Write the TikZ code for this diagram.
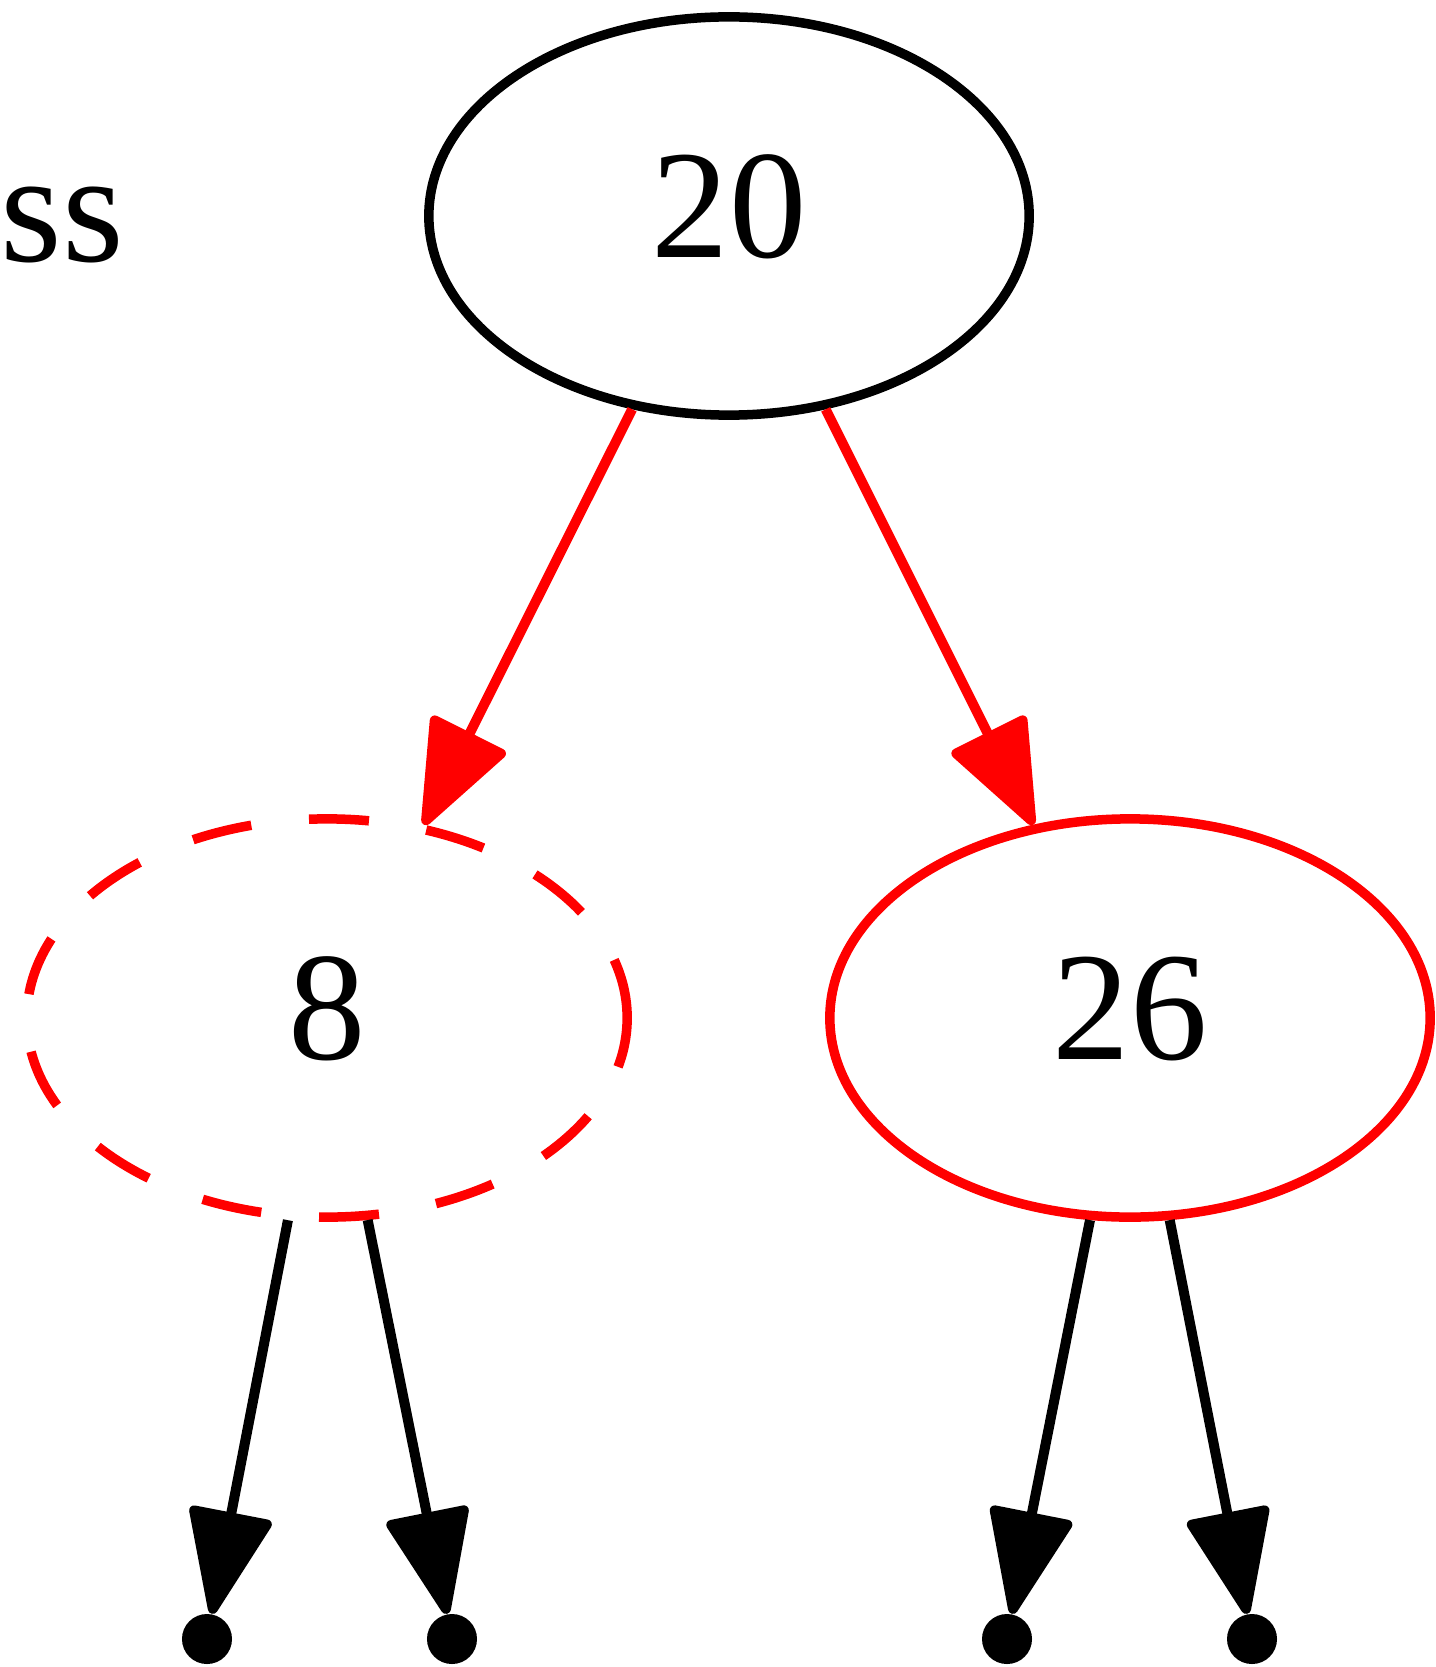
\documentclass[tikz,border=0pt]{standalone}
\usepackage{fontspec}
\setmainfont{Liberation Serif}
\usetikzlibrary{shapes.geometric,arrows.meta}
\begin{document}
\begin{tikzpicture}[x=0.01cm,y=-0.01cm,
  tree/.style={ellipse,draw,line width=0.095cm,minimum width=6.0cm,minimum height=3.98cm,inner sep=0pt,text depth=0.2cm,font=\fontsize{44}{53}\selectfont},
  redtree/.style={tree,draw=red},
  leaf/.style={circle,fill=black,minimum size=0.5cm,inner sep=0pt},
  edge/.style={line width=0.1cm,-{Triangle[length=1.12cm,width=0.86cm,round]}},
  rededge/.style={edge,draw=red,fill=red}]
\useasboundingbox (0,0) rectangle (1435,1667);
\node[anchor=base west,inner sep=0pt,font=\fontsize{45}{54}\selectfont] (lbl) at (0,262) {ss};
\node[tree] (n20) at (729,216) {20};
\node[redtree,dash pattern=on 0.6cm off 0.58cm] (n8) at (327,1018) {8};
\node[redtree] (n26) at (1130,1018) {26};
\node[leaf] (l1) at (207,1639) {};
\node[leaf] (l2) at (452,1639) {};
\node[leaf] (l3) at (1007,1639) {};
\node[leaf] (l4) at (1252,1639) {};
\draw[rededge] (n20) -- (n8);
\draw[rededge] (n20) -- (n26);
\draw[edge] (n8) -- (l1);
\draw[edge] (n8) -- (l2);
\draw[edge] (n26) -- (l3);
\draw[edge] (n26) -- (l4);
\end{tikzpicture}
\end{document}
